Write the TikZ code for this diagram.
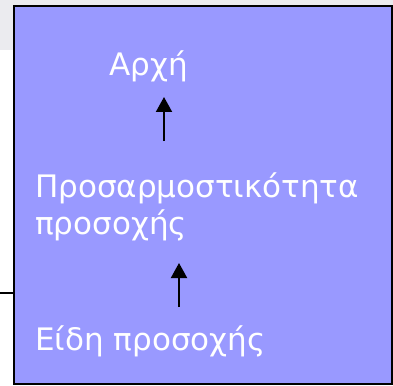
\documentclass[tikz,border=0pt]{standalone}
\usepackage{fontspec}
\setmainfont{DejaVu Sans}
\usetikzlibrary{arrows.meta}
\definecolor{bandgray}{HTML}{EBEBEF}
\definecolor{boxfill}{HTML}{9999FF}
\tikzset{
  lbl/.style={inner sep=0pt, anchor=base west, text=white, align=left,
    font=\fontsize{31}{37}\selectfont},
  uparrow/.style={draw=black, line width=2pt,
    -{Triangle[width=16pt,length=15pt]}},
}
\begin{document}
\begin{tikzpicture}[x=1pt,y=-1pt]
  \useasboundingbox (0,0) rectangle (393,385);
  % grey band along the top
  \fill[bandgray] (0,0) rectangle (393,50);
  % lead-in line on the left
  \coordinate (lead) at (0,293);
  \coordinate (leadend) at (13,293);
  \draw[line width=2pt] (lead) -- (leadend);
  % main box
  \node[draw=black, line width=2pt, fill=boxfill, minimum width=378pt,
        minimum height=377pt, inner sep=0pt, anchor=north west] (panel) at (13,5.5) {};
  % labels (base anchor of a two-line node sits on its last line)
  \node[lbl] (arche) at (109,76) {Αρχή};
  \node[lbl] (prosarm) at (35,234) {Προσαρμοστικότητα\\προσοχής};
  \node[lbl] (eidi) at (35,350) {Είδη προσοχής};
  % arrows
  \coordinate (a1s) at (164,141);
  \coordinate (a1e) at (164,97);
  \coordinate (a2s) at (179,307);
  \coordinate (a2e) at (179,263);
  \draw[uparrow] (a1s) -- (a1e);
  \draw[uparrow] (a2s) -- (a2e);
\end{tikzpicture}
\end{document}
